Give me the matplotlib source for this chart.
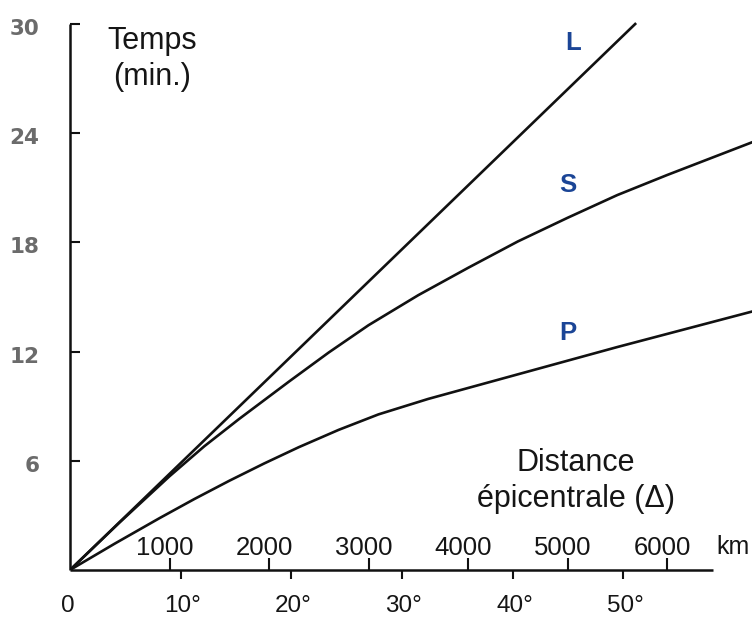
import matplotlib
matplotlib.use("Agg")
import matplotlib.pyplot as plt
import matplotlib.transforms as mtransforms
from matplotlib.ticker import FixedLocator, NullFormatter

plt.rcParams['font.family'] = ['Liberation Sans', 'DejaVu Sans']

# ---- data (distance in km, time in minutes) ----
dist_L = [0, 5680]
time_L = [0, 30]

dist_S = [0, 500, 1000, 1350, 1700, 2200, 2600, 3000, 3500, 4000, 4500, 5000,
          5500, 6000, 6854]
time_S = [0, 2.62, 5.15, 6.8, 8.3, 10.35, 11.95, 13.45, 15.1, 16.6, 18.05,
          19.35, 20.6, 21.7, 23.5]

dist_P = [0, 450, 900, 1250, 1600, 1950, 2300, 2700, 3100, 3600, 4300, 4700,
          5500, 6854]
time_P = [0, 1.45, 2.85, 3.9, 4.9, 5.85, 6.75, 7.7, 8.55, 9.4, 10.45, 11.05,
          12.25, 14.2]

y_ticks = [6, 12, 18, 24, 30]
km_ticks = [1000, 2000, 3000, 4000, 5000, 6000]
deg_ticks = [10, 20, 30, 40, 50]
KM_PER_DEG = 111.19

W, H = 752, 621
fig = plt.figure(figsize=(W / 100, H / 100), dpi=100)
fig.patch.set_facecolor('white')
ax = fig.add_axes([70 / W, 51 / H, 682 / W, 570 / H])
ax.set_xlim(0, 6854)
ax.set_ylim(0, 570 / 18.2)
ax.patch.set_alpha(0)

for sp in ['top', 'right']:
    ax.spines[sp].set_visible(False)
ax.spines['left'].set_bounds(0, 30)
ax.spines['bottom'].set_bounds(0, 6462)
for sp in ['left', 'bottom']:
    ax.spines[sp].set_linewidth(1.8)
    ax.spines[sp].set_color('#111111')
    ax.spines[sp].set_capstyle('butt')

# curves
for d, t in [(dist_L, time_L), (dist_S, time_S), (dist_P, time_P)]:
    ax.plot(d, t, color='#111111', lw=1.9, solid_joinstyle='round')

# y axis ticks
ax.yaxis.set_major_locator(FixedLocator(y_ticks))
ax.set_yticklabels([str(v) for v in y_ticks])
ax.tick_params(axis='y', direction='in', length=7.5, width=1.5, pad=22,
               labelsize=15.5, labelcolor='#6b6b6b', color='#111111')
shift = mtransforms.ScaledTranslation(0, -3 / 100, fig.dpi_scale_trans)
for lab in ax.get_yticklabels():
    lab.set_fontweight('bold')
    lab.set_family(['DejaVu Sans'])
    lab.set_transform(lab.get_transform() + shift)

# x axis: km ticks (up), degree ticks (down)
ax.xaxis.set_major_locator(FixedLocator(km_ticks))
ax.xaxis.set_major_formatter(NullFormatter())
ax.xaxis.set_minor_locator(FixedLocator([d * KM_PER_DEG for d in deg_ticks]))
ax.xaxis.set_minor_formatter(NullFormatter())
ax.tick_params(axis='x', which='major', direction='in', length=8.5, width=1.5,
               color='#111111')
ax.tick_params(axis='x', which='minor', direction='out', length=6.5, width=1.5,
               color='#111111')

px_km = 1000 / 99.5    # km per pixel
px_min = 1 / 18.2      # minutes per pixel

for k in km_ticks:
    ax.text(k - 5 * px_km, 22 * px_min, str(k), ha='center', va='center',
            fontsize=18.5, color='#151515', clip_on=False)
ax.text(6663, 23 * px_min, 'km', ha='center', va='center', fontsize=18,
        color='#151515', clip_on=False)

for dg in deg_ticks:
    ax.text(dg * KM_PER_DEG + 2 * px_km, -36 * px_min, f'{dg}°', ha='center',
            va='center', fontsize=17.5, color='#151515', clip_on=False)
ax.text(-2 * px_km, -36 * px_min, '0', ha='center', va='center', fontsize=17.5,
        color='#151515', clip_on=False)

# axis titles
ax.text(82 * px_km, 511 * px_min, 'Temps\n(min.)', ha='center', va='center',
        fontsize=22, color='#151515', linespacing=1.22, clip_on=False)
ax.text(506 * px_km, 89 * px_min, 'Distance\népicentrale (Δ)', ha='center',
        va='center', fontsize=22, color='#151515', linespacing=1.25,
        clip_on=False)

# curve labels
blue = '#1b4596'
ax.text(503 * px_km, 527 * px_min, 'L', ha='center', va='center', fontsize=18.5,
        fontweight='bold', color=blue)
ax.text(498 * px_km, 385 * px_min, 'S', ha='center', va='center', fontsize=18.5,
        fontweight='bold', color=blue)
ax.text(498 * px_km, 237 * px_min, 'P', ha='center', va='center', fontsize=18.5,
        fontweight='bold', color=blue)

fig.savefig('out.png', dpi=100, facecolor='white')
